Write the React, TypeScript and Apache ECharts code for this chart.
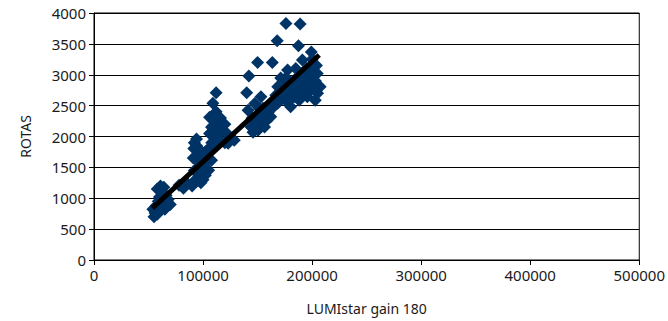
import React, { useEffect, useRef } from "react";
import * as echarts from "echarts";

const xTicks = [0, 100000, 200000, 300000, 400000, 500000];
const yTicks = [0, 500, 1000, 1500, 2000, 2500, 3000, 3500, 4000];

const lumiValues = [
  55000, 56000, 54000, 58000, 57000, 59000, 60000, 62000, 58000, 61000, 64000, 66000, 63000, 67000, 65000, 70000, 60000, 68000,
  78000, 82000,
  85000, 90000, 93000, 96000, 92000, 98000, 100000, 95000, 91000, 97000, 94000, 92000, 102000, 105000, 108000, 110000, 112000,
  115000, 118000, 120000, 122000, 125000, 108000, 110000, 112000, 109000, 112000, 106000, 94000, 114000, 116000, 120000, 106000,
  100000, 103000, 98000, 123000, 114000, 111000, 108000, 106600, 91500, 97500, 100500, 107800, 105100, 102100, 128600,
  141300, 147400, 153100, 144000, 147400, 150400, 156400, 159400, 162100, 168500, 145800, 152200, 159400, 154900,
  150000, 155000, 158000, 148000, 152000, 160000, 163000, 145000,
  168500, 174500, 174500, 183600, 183600, 180300, 188100, 192700, 198600, 198400, 195600, 204700, 207400, 201700, 199300,
  191100, 177500, 171200, 166700, 186600, 202900, 177500,
  170000, 175000, 180000, 185000, 190000, 195000, 200000, 193000, 197000, 203000, 178000, 182000, 188000, 172000, 165000,
  185000, 198000, 204000, 191000, 176000, 200000, 205000, 196000,
  176000, 189000, 168000, 187500, 150000, 163500, 142000, 140000
];
const rotasValues = [
  700, 760, 820, 740, 880, 950, 1020, 1100, 1150, 1200, 1180, 1050, 930, 880, 820, 900, 800, 980,
  1210, 1160,
  1250, 1200, 1300, 1380, 1450, 1500, 1420, 1600, 1650, 1700, 1850, 1900, 1750, 1800, 1900, 2000, 1850,
  1950, 2100, 1900, 2050, 1950, 2150, 2250, 2400, 2540, 2710, 2310, 1960, 2200, 2300, 2200, 2050,
  1300, 1600, 1250, 1890, 2074, 2292, 2155, 2048, 1805, 1777, 1696, 1615, 1453, 1371, 1940,
  2426, 2535, 2642, 2155, 2264, 2102, 2155, 2480, 2318, 2540, 2070, 2232, 2345, 2459,
  2300, 2350, 2250, 2150, 2450, 2400, 2450, 2300,
  2805, 2697, 2913, 2913, 2642, 2480, 2589, 3022, 2913, 2751, 2642, 3022, 2805, 3129, 3368,
  3238, 3075, 2946, 2670, 2832, 2589, 2556,
  2600, 2800, 2700, 2900, 3000, 3100, 3250, 2850, 2950, 2900, 2600, 2800, 2750, 2700, 2550,
  3100, 3050, 3150, 2700, 2950, 2800, 2700, 2780,
  3830, 3820, 3550, 3470, 3200, 3200, 2980, 2710
];

const trendX = [53500, 206500];
const trendY = [840, 3320];

const FONT = "'Noto Sans', sans-serif";
const TEXT = "#1a1a1a";

export default function App() {
  const ref = useRef<HTMLDivElement>(null);
  useEffect(() => {
    if (!ref.current) return;
    const chart = echarts.init(ref.current, undefined, { renderer: "svg" });
    const points = lumiValues.map((x, i) => [x, rotasValues[i]]);
    const trend = trendX.map((x, i) => [x, trendY[i]]);
    const plain = (v: number) => String(v);
    chart.setOption({
      animation: false,
      backgroundColor: "#ffffff",
      grid: {
        left: 94,
        right: 22,
        top: 13,
        bottom: 61,
        show: true,
        borderColor: "#000000",
        borderWidth: 1,
        backgroundColor: "transparent",
      },
      xAxis: {
        type: "value",
        min: xTicks[0],
        max: xTicks[xTicks.length - 1],
        interval: xTicks[1] - xTicks[0],
        name: "LUMIstar gain 180",
        nameLocation: "middle",
        nameGap: 41,
        nameTextStyle: { fontFamily: FONT, fontSize: 14, color: TEXT },
        axisLine: { show: true, onZero: false, lineStyle: { color: "#000", width: 1 } },
        axisTick: { show: true, inside: false, length: 5, lineStyle: { color: "#000" } },
        axisLabel: { fontFamily: FONT, fontSize: 15, color: TEXT, margin: 7, formatter: plain },
        splitLine: { show: false },
      },
      yAxis: {
        type: "value",
        min: yTicks[0],
        max: yTicks[yTicks.length - 1],
        interval: yTicks[1] - yTicks[0],
        name: "ROTAS",
        nameLocation: "middle",
        nameGap: 62,
        nameTextStyle: { fontFamily: FONT, fontSize: 14, color: TEXT },
        axisLine: { show: true, onZero: false, lineStyle: { color: "#000", width: 1 } },
        axisTick: { show: true, inside: false, length: 5, lineStyle: { color: "#000" } },
        axisLabel: { fontFamily: FONT, fontSize: 15, color: TEXT, margin: 8, formatter: plain },
        splitLine: { show: true, lineStyle: { color: "#000", width: 1 } },
      },
      series: [
        {
          type: "scatter",
          data: points,
          symbol: "diamond",
          symbolSize: 13,
          itemStyle: { color: "#003366", opacity: 1, borderWidth: 0 },
          emphasis: { disabled: true },
          z: 2,
        },
        {
          type: "line",
          data: trend,
          symbol: "none",
          lineStyle: { color: "#000000", width: 5 },
          z: 3,
        },
      ],
    });
    return () => chart.dispose();
  }, []);
  return (
    <div
      ref={ref}
      style={{ position: "fixed", left: 0, top: 0, width: 668, height: 321 }}
    />
  );
}
